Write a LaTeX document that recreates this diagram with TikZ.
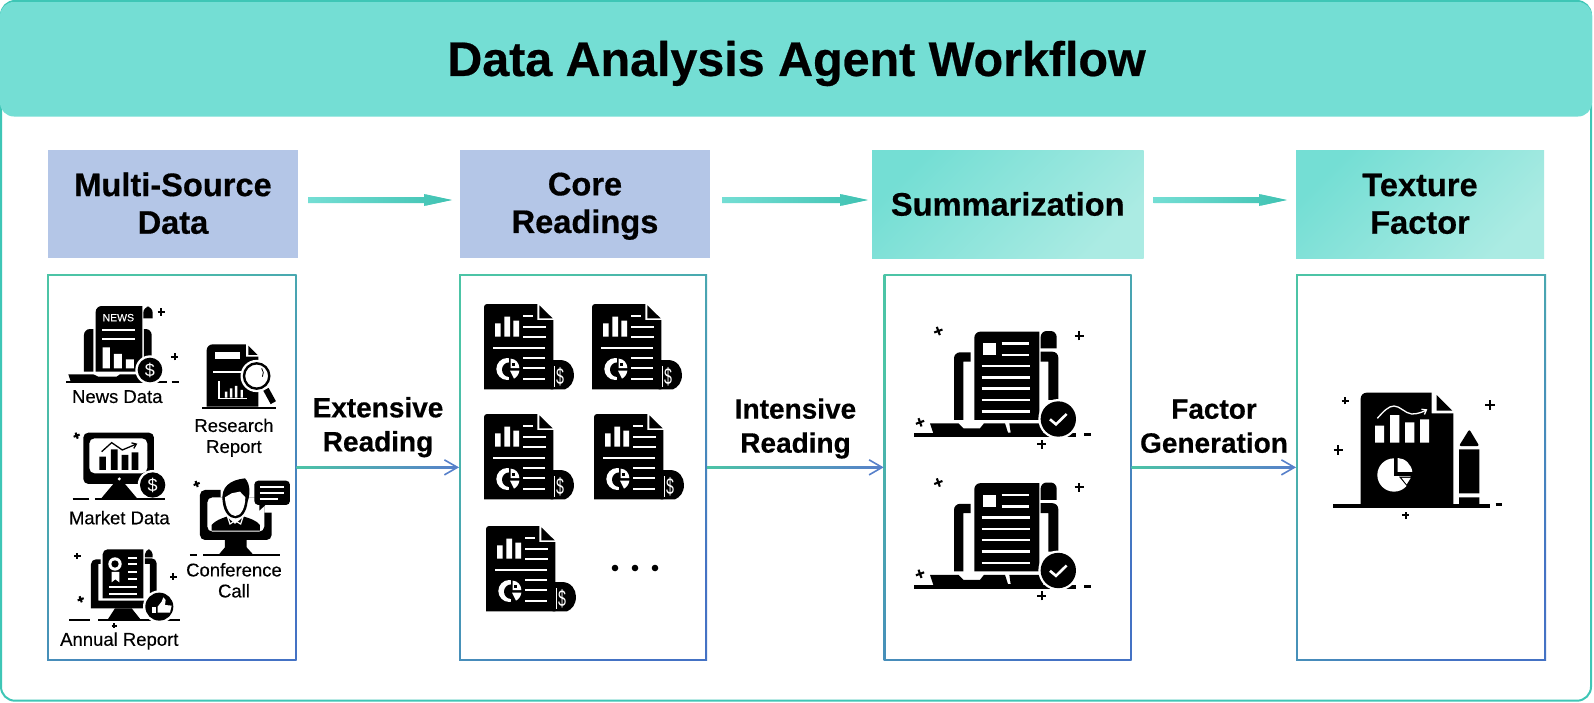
\documentclass[tikz,border=0pt]{standalone}
\usepackage{fontspec}
\setmainfont[BoldFeatures={FakeBold=0.5}]{Liberation Sans}
\usetikzlibrary{arrows.meta,calc}
\definecolor{headteal}{HTML}{74DED4}
\definecolor{frameteal}{HTML}{3EC6B6}
\definecolor{paleteal}{HTML}{ABEBE3}
\definecolor{boxblue}{HTML}{B4C6E7}
\definecolor{edgeteal}{HTML}{4CC4A6}
\definecolor{edgeblue}{HTML}{4472C4}
\definecolor{barteal}{HTML}{3FC2B2}
\newcommand{\fsz}[1]   {\fontsize{#1}{#1}\selectfont}
\newcommand{\lstrut}   {\rule[-5.4pt]{0pt}{32.6pt}}
\tikzset{
  stage/.style={anchor=north west,inner sep=0pt,outer sep=0pt,align=center,
    font=\fontsize{32.6}{37.6}\selectfont\bfseries},
  sourcebox/.style={stage,fill=boxblue},
  outbox/.style={stage,shade,top color=headteal,bottom color=paleteal,shading angle=45},
  panel/.style={anchor=north west,inner sep=0pt,outer sep=0pt,shade,
    top color=edgeteal,bottom color=edgeblue,shading angle=45},
  linklabel/.style={align=center,inner sep=0pt,font=\fontsize{28}{34}\selectfont\bfseries},
  tinylabel/.style={align=center,inner sep=0pt,font=\fsz{18.5}\addfontfeature{FakeBold=0.3}},
  zoomed/.style={x=.3333pt,y=-.3333pt},
  wline/.style={white,line width=1.9pt},
  link/.style={edgeblue!90!white,line width=1.6pt,-{Straight Barb[length=13pt,width=15pt,line width=1.6pt]}},
  bar/.style={headteal!50!barteal,line width=3pt,-{Triangle[length=26pt,width=10pt]}}
}
\newcommand{\spark}[3]{
  \draw[line width=2.1pt,rotate around={#2:(#1)}] (#1)+(-#3pt,0pt) -- +(#3pt,0pt) (#1)+(0pt,-#3pt) -- +(0pt,#3pt);
}
\newcommand{\coin}[2]{
  \fill[white] (#1) circle (#2+7);
  \fill (#1) circle (#2);
}
\newcommand{\usdcoin}[2]{
  \coin{#1}{#2}
  \node[white,inner sep=0pt,font=\fsz{18}] (usd) at (#1) {\$};
}
\newcommand{\panelinner}[1]{
  \fill[white] ([shift={(1.9pt,-1.9pt)}]#1.north west) rectangle ([shift={(-1.9pt,1.9pt)}]#1.south east);
}
\newcommand{\flowlink}[2]{
  \draw[link] (#1.east) -- (#2.west);
  \shade[left color=edgeteal,right color=edgeblue!90!white] ([yshift=.8pt]#1.east) rectangle ($(#2.west)+(-3,.8)$);
}
\newcommand{\flowbar}[4]{
  \coordinate (s) at ($(#1.east)+(#3,-4)$);
  \coordinate (t) at ($(#2.west)+(-#4,-4)$);
  \draw[bar] (s) -- (t);
  \shade[left color=headteal,right color=barteal] ($(s)+(0,3)$) -- ($(t)+(-28,3)$) -- ($(t)+(-28,6)$) -- (t)
    -- ($(t)+(-28,-6)$) -- ($(t)+(-28,-3)$) -- ($(s)+(0,-3)$) -- cycle;
}
\newcommand{\readdoc}[2]{
  \begin{scope}[shift={(#1,#2)},zoomed]
    \fill (200,168) -- (228,168) .. controls (255,168) and (270,190) .. (270,212)
      .. controls (270,235) and (258,250) .. (243,256) -- (200,256) -- cycle;
    \fill (0,256) [rounded corners=3pt] -- (0,0) [sharp corners] -- (160,0) -- (160,48) -- (208,48) -- (208,256) -- cycle;
    \fill (166,4) -- (206,43) -- (166,43) -- cycle;
    \fill[white] (33,58) rectangle (50,98) (61,38) rectangle (78,98) (88,50) rectangle (105,98);
    \draw[wline] (118,36) -- (148,36) (118,70) -- (186,70) (118,100) -- (186,100)
      (28,131) -- (183,131) (118,163) -- (183,163) (118,193) -- (183,193) (118,224) -- (183,224);
    \fill[white] (70,195) circle (33);
    \fill (76,197) circle (22);
    \fill (76,158) rectangle (110,232);
    \fill[white] (80,192) -- (80,164) .. controls (95,164) and (106,178) .. (106,192) -- cycle;
    \fill (84,176) rectangle (94,186);
    \fill[white] (78,200) -- (106,200) .. controls (105,210) and (98,220) .. (90,224) -- cycle;
    \draw[white,line width=1.4pt] (211,186) -- (211,248);
    \node[white,inner sep=0pt,font=\fsz{23},xscale=.62,transform shape] (usd) at (228,218) {\$};
  \end{scope}
}
\newcommand{\sumdoc}[2]{
  \begin{scope}[shift={(#1,#2)},zoomed]
    \fill (283,360) [rounded corners=6pt] -- (283,95) [sharp corners] -- (478,95) -- (478,360) -- cycle;
    \fill (482,145) [rounded corners=6pt] -- (482,93) -- (530,93) [sharp corners] -- (530,145) -- cycle;
    \fill (222,360) [rounded corners=6pt] -- (222,157) [sharp corners] -- (272,157) -- (272,185) -- (250,185) -- (250,360) -- cycle;
    \fill (482,155) [rounded corners=6pt] -- (535,155) [sharp corners] -- (535,300) -- (505,300) -- (505,185) -- (482,185) -- cycle;
    \fill (150,370) -- (235,370) -- (250,385) -- (300,385) -- (312,370) -- (375,370) -- (384,398) -- (392,398) -- (388,370)
      -- (490,370) -- (490,400) -- (160,400) -- cycle;
    \fill (103,400) rectangle (588,412);
    \fill[white] (310,130) rectangle (347,165);
    \draw[white,line width=2.4pt] (365,131) -- (448,131) (365,165) -- (448,165) (305,198) -- (450,198) (305,232) -- (450,232)
      (305,266) -- (450,266) (305,300) -- (450,300) (305,335) -- (450,335);
    \coin{535,357}{53}
    \draw[white,line width=2.6pt] (510,358) -- (528,373) -- (560,342);
    \spark{175,93}{20}{4.4}
    \spark{120,367}{20}{4.4}
    \spark{598,107}{0}{4.6}
    \spark{485,433}{0}{4.6}
    \draw[line width=3pt] (613,404) -- (632,404);
  \end{scope}
}
\begin{document}
\begin{tikzpicture}[x=1pt,y=-1pt]
  \useasboundingbox (0,0) rectangle (1594,702);
  \draw[frameteal,line width=2pt,fill=white,rounded corners=14pt] (1,1) rectangle (1591,700.7);
  \node (header) [anchor=north west,inner sep=0pt,outer sep=0pt,fill=headteal,rounded corners=14pt,
    minimum width=1592pt,minimum height=114.5pt] at (0,2) {};
  \node (title) [inner sep=0pt,font=\fsz{48.4}\bfseries] at (796.5,63.5) {Data Analysis Agent Workflow};
  \node (sources) [sourcebox,minimum width=250pt,minimum height=108pt] at (48,150) {\lstrut Multi-Source\\\lstrut Data};
  \node (core) [sourcebox,minimum width=250pt,minimum height=108pt] at (460,150) {\lstrut Core\\\lstrut Readings};
  \node (summary) [outbox,minimum width=271.5pt,minimum height=108pt] at (872,150) {Summarization};
  \node (factor) [outbox,minimum width=248pt,minimum height=108pt] at (1296,150) {\lstrut Texture\\\lstrut Factor};
  \flowbar{sources}{core}{10}{8}
  \flowbar{core}{summary}{12}{4}
  \flowbar{summary}{factor}{10}{9}
  \node (panelsrc) [panel,minimum width=249.7pt,minimum height=386.7pt] at (47,274) {};
  \panelinner{panelsrc}
  \node (panelcore) [panel,minimum width=248pt,minimum height=386.7pt] at (459,274) {};
  \panelinner{panelcore}
  \node (panelsum) [panel,minimum width=248pt,minimum height=386.7pt] at (883.7,274) {};
  \panelinner{panelsum}
  \node (panelfac) [panel,minimum width=250pt,minimum height=386.7pt] at (1296,274) {};
  \panelinner{panelfac}
  \flowlink{panelsrc}{panelcore}
  \flowlink{panelcore}{panelsum}
  \flowlink{panelsum}{panelfac}
  \node (extensive) [linklabel] at (378,423.7) {\lstrut Extensive\\\lstrut Reading};
  \node (intensive) [linklabel] at (795.5,425) {\lstrut Intensive\\\lstrut Reading};
  \node (generation) [linklabel] at (1214,424.8) {\lstrut Factor\\\lstrut Generation};
  \begin{scope}[shift={(30,260)},zoomed]
    \fill (197,335) [rounded corners=6pt] -- (197,138) [sharp corners] -- (337,138) -- (337,335) -- cycle;
    \fill (340,175) [rounded corners=6pt] -- (340,140) -- (368,140) [sharp corners] -- (368,175) -- cycle;
    \fill (162,335) [rounded corners=6pt] -- (162,207) [sharp corners] -- (190,207) -- (190,335) -- cycle;
    \fill (342,207) [rounded corners=6pt] -- (365,207) [sharp corners] -- (365,300) -- (342,300) -- cycle;
    \node[white,inner sep=0pt,font=\fsz{10.5}\addfontfeature{FakeBold=0.3}] (newsword) at (265,173) {NEWS};
    \draw[wline] (217,210) -- (315,210) (217,237) -- (315,237);
    \fill[white] (218,262) rectangle (240,325) (252,282) rectangle (276,325) (288,298) rectangle (312,325);
    \fill (115,343) -- (190,343) -- (205,350) -- (260,350) -- (270,343) -- (330,343) -- (330,364) -- (122,364) -- cycle;
    \fill (108,362) rectangle (412,370);
    \usdcoin{360,330}{37}
    \draw[line width=2.4pt] (425,366) -- (447,366);
    \spark{394,156}{0}{3.7}
    \spark{434,290}{0}{3.7}
    \node (newslabel) [tinylabel] at (262,410) {News Data};
    \fill (530,440) [rounded corners=6pt] -- (530,253) [sharp corners] -- (648,253) -- (648,290) -- (685,290) -- (685,440) -- cycle;
    \fill (655,257) -- (683,285) -- (655,285) -- cycle;
    \fill[white] (555,275) rectangle (630,297);
    \draw[wline] (550,335) -- (640,335);
    \fill[white] (563,362) rectangle (652,418);
    \fill (570,362) rectangle (652,413);
    \fill[white] (585,395) rectangle (592,413) (600,385) rectangle (607,413) (615,378) rectangle (622,413) (632,390) rectangle (639,413);
    \draw[white,fill=white,line width=1.6pt] (680,348) circle (46);
    \draw[line width=6pt] (708,388) -- (730,428);
    \draw[line width=2.4pt] (680,348) circle (38);
    \draw[line width=.8pt] (695,325) arc (-40:30:22);
    \fill (515,440) rectangle (738,448);
    \node (researchlabel) [tinylabel] at (612,533) {Research\\[2.5pt]Report};
    \fill[even odd rule,rounded corners=5pt] (160,518) rectangle (372,672) (178,535) rectangle (352,640);
    \fill[white] (268,657) circle (5);
    \fill (250,672) -- (285,672) -- (322,716) -- (213,716) -- cycle;
    \fill (208,590) rectangle (228,630) (243,568) rectangle (263,630) (275,585) rectangle (295,630) (305,577) rectangle (325,630);
    \draw[line width=1.3pt,-{Straight Barb[length=4pt,width=6pt]}] (215,575) -- (245,548) -- (277,570) -- (322,551);
    \usdcoin{368,675}{38}
    \draw[line width=1.8pt] (128,716) -- (178,716) (195,716) -- (405,716);
    \spark{140,527}{20}{3.2}
    \node (marketlabel) [tinylabel] at (268,773) {Market Data};
    \fill[even odd rule,rounded corners=5pt] (510,690) rectangle (725,840) (532,712) rectangle (703,815);
    \fill[white] (572,675) rectangle (735,712) (703,705) rectangle (735,758);
    \fill (585,840) -- (650,840) -- (650,862) -- (668,882) -- (568,882) -- (585,862) -- cycle;
    \draw[line width=2.2pt] (480,884) -- (500,884) (520,884) -- (750,884);
    \fill (645,655) .. controls (600,660) and (572,680) .. (578,725) .. controls (582,760) and (600,775) .. (617,775)
      .. controls (635,775) and (650,755) .. (653,725) .. controls (662,700) and (660,670) .. (645,655) -- cycle;
    \fill[white] (585,712) -- (605,700) -- (630,695) -- (646,712) .. controls (646,745) and (632,768) .. (616,768)
      .. controls (600,768) and (586,745) .. (585,712) -- cycle;
    \fill (545,812) -- (545,795) .. controls (555,782) and (575,775) .. (590,770) -- (615,792) -- (642,770)
      .. controls (660,775) and (680,782) .. (690,795) -- (690,812) -- cycle;
    \draw[white,line width=1.2pt] (592,768) -- (600,792) -- (615,782) -- (632,792) -- (640,768);
    \fill[rounded corners=4pt] (673,662) rectangle (780,735);
    \fill (688,730) -- (688,752) -- (712,730) -- cycle;
    \draw[white,line width=1.7pt] (690,682) -- (762,682) (690,700) -- (762,700) (690,718) -- (745,718);
    \spark{500,672}{20}{3.2}
    \node (conferencelabel) [tinylabel] at (612,961) {Conference\\[2.5pt]Call};
    \fill (183,1045) [rounded corners=5pt] -- (183,898) [sharp corners] -- (212,898) -- (212,912) -- (205,912) -- (205,1022) -- (345,1022) -- (345,1045) -- cycle;
    \fill (345,895) [rounded corners=5pt] -- (380,895) [sharp corners] -- (380,1000) -- (360,1000) -- (360,912) -- (345,912) -- cycle;
    \fill (345,892) [rounded corners=5pt] -- (345,868) -- (368,868) [sharp corners] -- (368,892) -- cycle;
    \fill (218,1015) [rounded corners=5pt] -- (218,868) [sharp corners] -- (340,868) -- (340,1015) -- cycle;
    \fill[white] (255,912) circle (20);
    \fill (255,912) circle (11);
    \fill[white] (245,936) -- (245,967) -- (256,958) -- (268,967) -- (268,936) -- cycle;
    \draw[wline] (295,893) -- (322,893) (295,912) -- (322,912) (295,935) -- (322,935) (295,958) -- (320,958)
      (238,982) -- (322,982) (238,1002) -- (322,1002);
    \fill (255,1045) -- (305,1045) -- (332,1079) -- (233,1079) -- cycle;
    \draw[line width=1.8pt] (118,1080) -- (180,1080) (205,1080) -- (450,1080);
    \coin{388,1040}{42}
    \fill[white] (365,1040) rectangle (378,1058);
    \fill[white] (383,1040) -- (395,1025) -- (400,1012) -- (407,1020) -- (405,1035) -- (425,1037) -- (420,1058) -- (383,1058) -- cycle;
    \spark{142,888}{0}{3.2}
    \spark{430,950}{0}{3.2}
    \spark{253,1097}{0}{2.6}
    \spark{152,1018}{20}{3.2}
    \node (annuallabel) [tinylabel] at (268,1143) {Annual Report};
  \end{scope}
  \readdoc{484}{304}
  \readdoc{592}{304}
  \readdoc{484}{414}
  \readdoc{594}{414}
  \readdoc{486}{526}
  \fill (615,568) circle (3.3) (635,568) circle (3.3) (655,568) circle (3.3);
  \sumdoc{880}{300}
  \sumdoc{880}{451.5}
  \begin{scope}[shift={(1290,370)},zoomed]
    \fill (212,402) [rounded corners=6pt] -- (212,68) [sharp corners] -- (425,68) -- (425,130) -- (490,130) -- (490,402) -- cycle;
    \fill (440,75) -- (487,122) -- (440,122) -- cycle;
    \fill (128,402) rectangle (600,414);
    \fill[rounded corners=2pt] (538,178) -- (568,228) -- (507,228) -- cycle;
    \fill (507,238) rectangle (568,370) (507,382) rectangle (568,402);
    \fill[white] (255,167) rectangle (282,218) (300,135) rectangle (328,218) (345,157) rectangle (373,218) (390,148) rectangle (417,218);
    \draw[white,line width=1.3pt,-{Straight Barb[length=4pt,width=6pt]}] (262,145) .. controls (280,125) and (295,108) .. (312,108)
      .. controls (330,108) and (345,130) .. (365,132) .. controls (385,132) and (400,125) .. (412,118);
    \fill[white] (312,315) circle (50);
    \fill (316,262) rectangle (372,314);
    \fill[white] (323,306) -- (323,264) .. controls (345,264) and (365,284) .. (367,306) -- cycle;
    \draw[line width=1.7pt] (316,262) -- (316,314) -- (368,314);
    \fill (327,320) -- (368,320) -- (368,350) -- (352,350) -- cycle;
    \fill[white] (335,324) -- (362,324) -- (350,343) -- cycle;
    \spark{166,92}{0}{3.8}
    \spark{145,240}{0}{4.6}
    \spark{600,105}{0}{4.6}
    \spark{347,436}{0}{3.8}
    \draw[line width=3pt] (617,405) -- (637,405);
  \end{scope}
\end{tikzpicture}
\end{document}
